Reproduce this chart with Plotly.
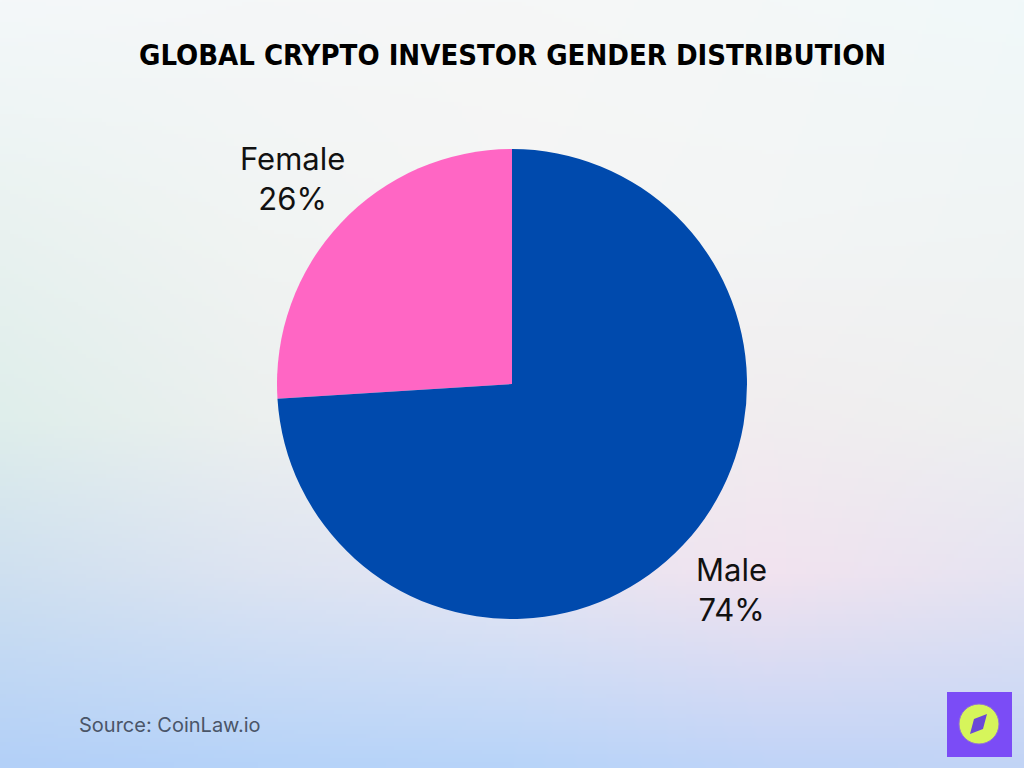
import base64, struct, zlib, math
import numpy as np
import plotly.graph_objects as go

# ---- data ----
labels = ["Female", "Male"]
values = [26, 74]
colors = ["#ff66c4", "#004aad"]
title_text = "GLOBAL CRYPTO INVESTOR GENDER DISTRIBUTION"
source_text = "Source: CoinLaw.io"

W, H = 1024, 768

# ---- background gradient (decorative) ----
def hexrgb(h):
    h = h.lstrip("#")
    return [int(h[i:i + 2], 16) for i in (0, 2, 4)]

gx = [0, 0.25, 0.5, 0.75, 1]
gy = [0, 0.3, 0.55, 0.75, 1]
grid = [
    ["f4f8fa", "f5f7f8", "f6f7f7", "f4f8f8", "f1f9fa"],
    ["e9f2f0", "f1f4f3", "f5f5f4", "f3f5f5", "f0f4f4"],
    ["dfeeeb", "ecf0ef", "f2f1f1", "f1edef", "eef0f0"],
    ["cfe0f0", "dde4f2", "e6e6f3", "f2e3ef", "e6e4f2"],
    ["b3d0f8", "b6d3f9", "b8d4f9", "c0d4f8", "c2d4f6"],
]
G = np.array([[hexrgb(c) for c in row] for row in grid], dtype=float)
iw, ih = 256, 192
xs = np.linspace(0, 1, iw)
ys = np.linspace(0, 1, ih)
tmp = np.zeros((len(gy), iw, 3))
for r in range(len(gy)):
    for c in range(3):
        tmp[r, :, c] = np.interp(xs, gx, G[r, :, c])
img = np.zeros((ih, iw, 3))
for i in range(iw):
    for c in range(3):
        img[:, i, c] = np.interp(ys, gy, tmp[:, i, c])
img = np.clip(img, 0, 255).astype(np.uint8)

def to_png(a):
    h, w, _ = a.shape
    raw = b"".join(b"\x00" + a[r].tobytes() for r in range(h))
    def chunk(t, d):
        c = struct.pack(">I", len(d)) + t + d
        return c + struct.pack(">I", zlib.crc32(t + d) & 0xffffffff)
    return (b"\x89PNG\r\n\x1a\n" + chunk(b"IHDR", struct.pack(">IIBBBBB", w, h, 8, 2, 0, 0, 0))
            + chunk(b"IDAT", zlib.compress(raw, 9)) + chunk(b"IEND", b""))

bg_src = "data:image/png;base64," + base64.b64encode(to_png(img)).decode()

# ---- pie geometry ----
cx, cy, R = 512, 384, 235
dom_x = [(cx - R) / W, (cx + R) / W]
dom_y = [(H - cy - R) / H, (H - cy + R) / H]
total = sum(values)
first_deg = 360.0 * values[0] / total

fig = go.Figure()
fig.add_trace(go.Pie(
    labels=labels, values=values, sort=False, direction="counterclockwise",
    rotation=-first_deg, marker=dict(colors=colors, line=dict(width=0)),
    textinfo="none", hoverinfo="label+percent", showlegend=False,
    domain=dict(x=dom_x, y=dom_y),
))

# outside labels placed along each slice's mid-angle (first slice runs left from 12 o'clock)
start = 90.0
annotations = []
for lab, v in zip(labels, values):
    sweep = 360.0 * v / total
    mid = math.radians(start + sweep / 2)
    start += sweep
    dist = 1.28 * R
    px = cx + dist * math.cos(mid)
    py = cy - dist * math.sin(mid)
    annotations.append(dict(
        x=px / W, y=1 - py / H, xref="paper", yref="paper",
        text=f"{lab}<br>{round(100 * v / total)}%", showarrow=False,
        xanchor="center", yanchor="middle", align="center",
        font=dict(family="Inter", size=31, color="#111111"),
    ))

annotations.append(dict(
    x=0.5, y=1 - 55 / H, xref="paper", yref="paper", text=f"<b>{title_text}</b>",
    showarrow=False, xanchor="center", yanchor="middle",
    font=dict(family="DejaVu Sans Condensed", size=29, color="#000000"),
))
annotations.append(dict(
    x=77 / W, y=1 - 725 / H, xref="paper", yref="paper", text=source_text,
    showarrow=False, xanchor="left", yanchor="middle",
    font=dict(family="Inter", size=20, color="#4a5568"),
))

def P(x, y):
    return x / W, 1 - y / H

shapes = []
x0, y1 = P(947, 692)
x1, y0 = P(1012, 757)
shapes.append(dict(type="rect", xref="paper", yref="paper", x0=x0, x1=x1, y0=y0, y1=y1,
                   fillcolor="#7b4cf6", line=dict(width=0)))
a0, b1 = P(959, 704)
a1, b0 = P(999, 744)
shapes.append(dict(type="circle", xref="paper", yref="paper", x0=a0, x1=a1, y0=b0, y1=b1,
                   fillcolor="#d6f55b", line=dict(width=1, color="#8f6fd6")))
pts = [P(987, 714), P(983, 729), P(970, 734), P(974, 719)]
path = "M " + " L ".join(f"{x:.5f},{y:.5f}" for x, y in pts) + " Z"
shapes.append(dict(type="path", xref="paper", yref="paper", path=path,
                   fillcolor="#6b48d8", line=dict(width=0)))

fig.update_layout(
    width=W, height=H, margin=dict(l=0, r=0, t=0, b=0),
    paper_bgcolor="#f4f6f6", plot_bgcolor="rgba(0,0,0,0)",
    images=[dict(source=bg_src, xref="paper", yref="paper", x=0, y=1, sizex=1, sizey=1,
                 xanchor="left", yanchor="top", sizing="stretch", layer="below")],
    annotations=annotations, shapes=shapes,
)

fig.write_html("out.html")
